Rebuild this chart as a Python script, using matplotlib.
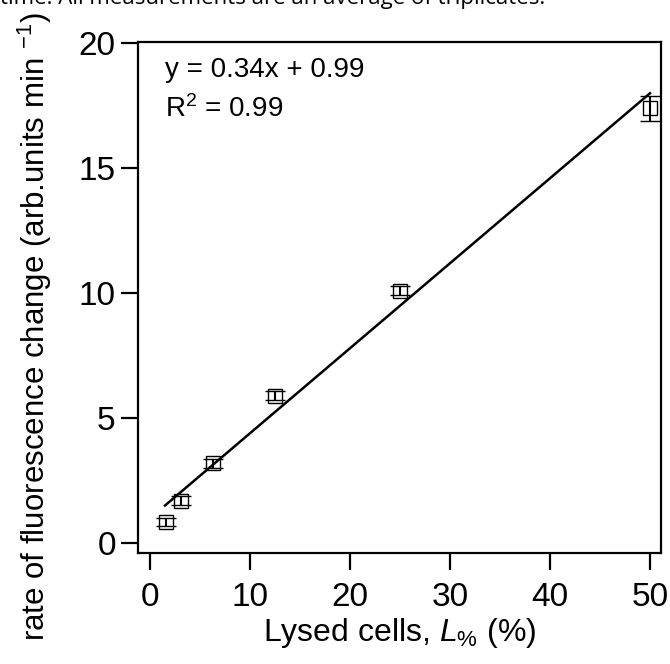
import matplotlib.pyplot as plt
import numpy as np

plt.rcParams['font.family'] = ['Liberation Sans', 'DejaVu Sans']
plt.rcParams['mathtext.fontset'] = 'custom'
plt.rcParams['mathtext.rm'] = 'Liberation Sans'
plt.rcParams['mathtext.it'] = 'Liberation Sans:italic'

lysed = [1.5625, 3.125, 6.25, 12.5, 25, 50]
rate = [0.85, 1.7, 3.2, 5.9, 10.1, 17.4]
rate_err = [0.15, 0.18, 0.18, 0.18, 0.2, 0.5]
slope = 0.34
intercept = 0.99

fig = plt.figure(figsize=(6.7, 6.64), dpi=100)
ax = fig.add_axes([138 / 670, 1 - 553 / 664, 523 / 670, 511 / 664])

ax.errorbar(lysed, rate, yerr=rate_err, fmt='s', mfc='none', mec='black',
            ms=10.5, mew=1.0, ecolor='black', elinewidth=1.5, capsize=7, capthick=1.5,
            zorder=3)
xf = np.array([1.5, 50])
ax.plot(xf, slope * xf + intercept, color='black', lw=1.8, zorder=2)

ax.set_xlim(-1.2, 51.1)
ax.set_ylim(-0.4, 20.04)
ax.set_xticks([0, 10, 20, 30, 40, 50])
ax.set_yticks([0, 5, 10, 15, 20])
ax.tick_params(direction='out', length=12, width=1.6, labelsize=24)
ax.tick_params(axis='x', pad=9)
ax.tick_params(axis='y', pad=4)
for s in ax.spines.values():
    s.set_linewidth(1.6)

ax.set_xlabel('Lysed cells, $\\mathit{L}_{\\%}$ (%)', fontsize=23, labelpad=2)
ax.set_ylabel('rate of fluorescence change (arb.units min $^{-1}$)', fontsize=22.5)
ax.yaxis.set_label_coords(-0.16, 0.443)

ax.text(0.052, 0.97, 'y = 0.34x + 0.99', transform=ax.transAxes, fontsize=20,
        va='top')
ax.text(0.052, 0.895, 'R$^2$ = 0.99', transform=ax.transAxes, fontsize=20,
        va='top')

fig.text(0.0, 1 - 4 / 664, 'time. All measurements are an average of triplicates.',
         fontsize=16, ha='left', va='baseline', family=['Open Sans', 'DejaVu Sans'])

fig.savefig('out.png', dpi=100)
